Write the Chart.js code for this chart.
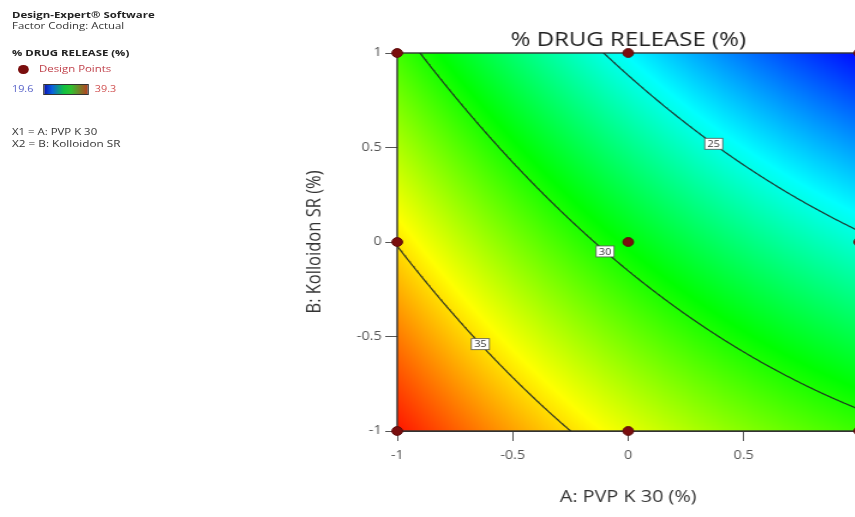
<!DOCTYPE html>
<html><head><meta charset="utf-8">
<script src="https://cdn.jsdelivr.net/npm/chart.js@4.4.1/dist/chart.umd.min.js"></script>
<style>
html,body{margin:0;padding:0;overflow:hidden;background:#fff;width:855px;height:517px;}
#stage{position:absolute;left:0;top:0;width:750px;height:517px;transform:scaleX(1.2);transform-origin:0 0;}
#wrap{position:absolute;left:0;top:0;width:750px;height:517px;}
.lg{position:absolute;font-family:"Open Sans",sans-serif;white-space:nowrap;color:#333;line-height:12px;}
</style></head><body>
<div id="stage">
<div id="wrap"><canvas id="c" width="750" height="517"></canvas></div>
<div class="lg" style="left:10px;top:9px;font-size:9.5px;font-weight:bold;color:#222;">Design-Expert® Software</div>
<div class="lg" style="left:10px;top:20px;font-size:9.5px;">Factor Coding: Actual</div>
<div class="lg" style="left:10px;top:47px;font-size:9.5px;font-weight:bold;color:#222;">% DRUG RELEASE (%)</div>
<div style="position:absolute;left:15px;top:64.5px;width:8.5px;height:9px;border-radius:50%;background:#7a0e0e;"></div>
<div class="lg" style="left:32.5px;top:63px;font-size:9.5px;color:#c0404a;">Design Points</div>
<div class="lg" style="left:10px;top:83px;font-size:9px;color:#5560c8;">19.6</div>
<div style="position:absolute;left:36px;top:84px;width:36px;height:9px;border:1px solid #333;background:linear-gradient(to right,#0a14b4 0%,#0a60e0 18%,#10c040 45%,#30c030 62%,#b84020 100%);"></div>
<div class="lg" style="left:79px;top:83px;font-size:9px;color:#d05050;">39.3</div>
<div class="lg" style="left:10px;top:126px;font-size:9.5px;">X1 = A: PVP K 30</div>
<div class="lg" style="left:10px;top:138px;font-size:9.8px;">X2 = B: Kolloidon SR</div>
</div>
<script>
// ---- data ----
const factorLevelsA = [-1, 0, 1];          // A: PVP K 30 (coded)
const factorLevelsB = [-1, 0, 1];          // B: Kolloidon SR (coded)
// % drug release at the design points, one list per B level, ordered by A
const responseBminus1 = [38.9, 33.9, 30.6];
const responseB0      = [34.9, 29.3, 25.3];
const responseBplus1  = [30.7, 24.4, 19.8];
const contourLevels = [25, 30, 35];
const contourLabelA = [0.37, -0.10, -0.64];
const axisTicks = [-1, -0.5, 0, 0.5, 1];
const colorScaleRange = [19.6, 39.3];

function feats(a,b){return [1,a,b,a*b,a*a,b*b];}
function lsq(rows, ys){
  const n=6, M=[];
  for(let i=0;i<n;i++){M.push(new Array(n+1).fill(0));}
  rows.forEach((r,k)=>{for(let i=0;i<n;i++){for(let j=0;j<n;j++)M[i][j]+=r[i]*r[j];M[i][n]+=r[i]*ys[k];}});
  for(let c=0;c<n;c++){let p=c;for(let r=c+1;r<n;r++)if(Math.abs(M[r][c])>Math.abs(M[p][c]))p=r;
    [M[c],M[p]]=[M[p],M[c]];
    for(let r=0;r<n;r++){if(r===c)continue;const f=M[r][c]/M[c][c];for(let j=c;j<=n;j++)M[r][j]-=f*M[c][j];}}
  return M.map((row,i)=>row[n]/row[i]);
}
// quadratic response-surface model fitted to the design points
const responseRows = [responseBminus1, responseB0, responseBplus1];
const designPts = [], designX = [], designY = [];
factorLevelsB.forEach((b,j)=>factorLevelsA.forEach((a,i)=>{designPts.push({x:a,y:b});designX.push(feats(a,b));designY.push(responseRows[j][i]);}));
const beta = lsq(designX, designY);
const model = (a,b)=>feats(a,b).reduce((s,f,i)=>s+f*beta[i],0);

const stops=[[0,0,255],[0,255,255],[0,255,0],[255,255,0],[255,0,0]];
function colorFor(v){
  let t=(v-colorScaleRange[0])/(colorScaleRange[1]-colorScaleRange[0]);
  t=Math.max(0,Math.min(1,t))*(stops.length-1);
  const i=Math.min(stops.length-2,Math.floor(t)), f=t-i;
  return stops[i].map((c,k)=>Math.round(c+(stops[i+1][k]-c)*f));
}
function contourData(level){
  const out=[];
  for(let a=-1.06;a<=1.06;a+=0.004){
    const A=beta[5], B=beta[2]+beta[3]*a, C=beta[0]+beta[1]*a+beta[4]*a*a-level;
    let roots=[];
    if(Math.abs(A)<1e-9){roots=[-C/B];}
    else{const d=B*B-4*A*C;if(d<0)continue;const s=Math.sqrt(d);roots=[(-B+s)/(2*A),(-B-s)/(2*A)];}
    roots=roots.filter(r=>r>=-1.12&&r<=1.12);
    if(roots.length) out.push({x:a,y:roots.sort((p,q)=>Math.abs(p)-Math.abs(q))[0]});
  }
  return out;
}
function bAt(level,a){const d=contourData(level);let best=d[0];d.forEach(p=>{if(Math.abs(p.x-a)<Math.abs(best.x-a))best=p;});return best.y;}

const FONT='"Open Sans", sans-serif';
const heatmap={id:'heatmap',beforeDatasetsDraw(chart){
  const {ctx,chartArea:{left,top,right,bottom},scales:{x,y}}=chart;
  const L=Math.round(left),T=Math.round(top),w=Math.round(right)-L,h=Math.round(bottom)-T;
  const img=ctx.createImageData(w,h);
  for(let j=0;j<h;j++){const b=y.getValueForPixel(T+j+0.5);
    for(let i=0;i<w;i++){const a=x.getValueForPixel(L+i+0.5);const c=colorFor(model(a,b));const k=(j*w+i)*4;
      img.data[k]=c[0];img.data[k+1]=c[1];img.data[k+2]=c[2];img.data[k+3]=255;}}
  ctx.putImageData(img,L,T);
  ctx.save();ctx.strokeStyle='#333';ctx.lineWidth=1.4;ctx.strokeRect(left,top,right-left,bottom-top);ctx.restore();
}};
const labels={id:'clabels',afterDatasetsDraw(chart){
  const {ctx,scales:{x,y}}=chart;
  ctx.save();ctx.font='9px '+FONT;ctx.textAlign='center';ctx.textBaseline='middle';
  contourLevels.forEach((lv,i)=>{const a=contourLabelA[i],b=bAt(lv,a);const px=x.getPixelForValue(a),py=y.getPixelForValue(b);
    ctx.fillStyle='#fff';ctx.fillRect(px-7.5,py-5.5,15,11);ctx.strokeStyle='#555';ctx.lineWidth=0.8;ctx.strokeRect(px-7.5,py-5.5,15,11);
    ctx.fillStyle='#333';ctx.fillText(String(lv),px,py+0.5);});
  ctx.restore();
}};
const titlePlugin={id:'mainTitle',afterDraw(chart){
  const {ctx,chartArea:{left,right}}=chart;
  ctx.save();ctx.font='20px '+FONT;ctx.fillStyle='#222';ctx.textAlign='center';ctx.textBaseline='middle';
  ctx.fillText('% DRUG RELEASE (%)',(left+right)/2,40);ctx.restore();
}};

const datasets=[{label:'Design Points',data:designPts,pointRadius:4.4,pointHoverRadius:4.4,backgroundColor:'#7a0e0e',borderColor:'#5c0a0a',borderWidth:1,clip:false}];
contourLevels.forEach(lv=>datasets.push({label:'c'+lv,data:contourData(lv),showLine:true,pointRadius:0,borderColor:'rgba(30,40,35,0.9)',borderWidth:1.2,tension:0}));

const tickFont={size:12,family:FONT};
new Chart(document.getElementById('c'),{type:'scatter',data:{datasets},
 options:{responsive:false,animation:false,events:[],
  layout:{padding:{left:248,right:34,top:53,bottom:0}},
  plugins:{legend:{display:false},tooltip:{enabled:false},title:{display:false}},
  scales:{
   x:{type:'linear',min:-1,max:1,afterBuildTicks:s=>{s.ticks=axisTicks.map(v=>({value:v}));},afterFit:s=>{s.height=86;},
      ticks:{color:'#555',font:tickFont,padding:7,callback:v=>String(v)},
      grid:{drawOnChartArea:false,drawTicks:true,tickLength:10,color:'#555'},border:{display:true,color:'#333'},
      title:{display:true,text:'A: PVP K 30 (%)',color:'#333',font:{size:16.5,family:FONT},padding:{top:0,bottom:10}}},
   y:{type:'linear',min:-1,max:1,afterBuildTicks:s=>{s.ticks=axisTicks.map(v=>({value:v}));},afterFit:s=>{s.width=83;},
      ticks:{color:'#555',font:tickFont,padding:3,callback:v=>String(v)},
      grid:{drawOnChartArea:false,drawTicks:true,tickLength:10,color:'#555'},border:{display:true,color:'#333'},
      title:{display:true,text:'B: Kolloidon SR (%)',color:'#333',font:{size:16.5,family:FONT},padding:{top:4,bottom:0}}}
  }},
 plugins:[heatmap,labels,titlePlugin]});
</script>
</body></html>
